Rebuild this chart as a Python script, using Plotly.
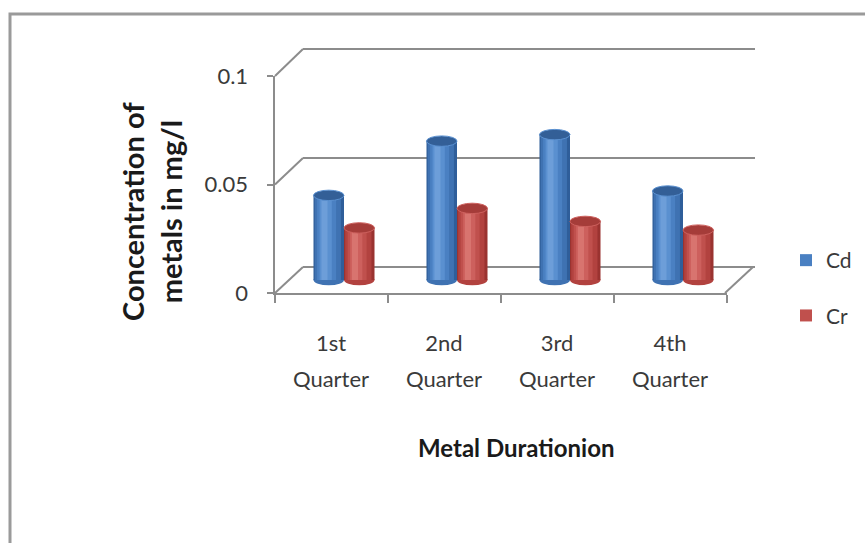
import plotly.graph_objects as go

categories = ["1st<br>Quarter", "2nd<br>Quarter", "3rd<br>Quarter", "4th<br>Quarter"]
cd_values = [0.039, 0.064, 0.067, 0.041]
cr_values = [0.024, 0.033, 0.027, 0.023]
y_ticks = [0, 0.05, 0.1]
y_ticktext = ["0", "0.05", "0.1"]

W, H = 865, 543
def X(px):
    return px / W
def Y(py):
    return 1 - py / H

GRAY = "#8c8c8c"
FONT = "Lato"

fig = go.Figure()

idx = list(range(len(categories)))
BW = 0.27
series = [
    ("Cd", cd_values, -BW, ["#2f5e9a", "#3f72b2", "#4a80c2", "#5a90d0", "#6d9ed9"], "#335f97"),
    ("Cr", cr_values, 0.0, ["#9a3330", "#b2423f", "#c0504d", "#cd605d", "#d8746f"], "#a53c39"),
]
strips = [(0.0, 1.0), (0.04, 0.86), (0.12, 0.62), (0.2, 0.4), (0.26, 0.2)]
for name, vals, off, cols, topc in series:
    for k, (ro, rw) in enumerate(strips):
        fig.add_trace(go.Bar(
            x=idx, y=vals, base=0, offset=off + ro * BW, width=rw * BW,
            marker=dict(color=cols[k], line=dict(width=0)),
            name=name, legendgroup=name, showlegend=(k == 2),
            xaxis="x3", yaxis="y3", hoverinfo="skip"))

E = 0.0024
shapes = []
for name, vals, off, cols, topc in series:
    for i, v in zip(idx, vals):
        shapes.append(dict(type="circle", xref="x3", yref="y3", layer="below",
                           x0=i + off, x1=i + off + BW, y0=-E, y1=E,
                           fillcolor=cols[1], line=dict(width=0)))
        shapes.append(dict(type="circle", xref="x3", yref="y3", layer="above",
                           x0=i + off, x1=i + off + BW, y0=v - E, y1=v + E,
                           fillcolor=topc, line=dict(color=cols[3], width=1)))

def seg(x0, y0, x1, y1, w=2):
    return dict(type="line", xref="paper", yref="paper", layer="below",
                x0=X(x0), y0=Y(y0), x1=X(x1), y1=Y(y1),
                line=dict(color=GRAY, width=w))

FX, BX, BXR, FXR = 275, 303, 755, 725
for fy, by in [(76, 49), (184.5, 158), (293, 267)]:
    shapes.append(seg(FX, fy, BX, by))
shapes.append(seg(FXR, 293, 753, 267))
shapes.append(dict(type="rect", xref="paper", yref="paper", layer="below",
                   x0=X(10), y0=Y(14), x1=X(880), y1=Y(570),
                   line=dict(color="#9a9a9a", width=3), fillcolor="rgba(0,0,0,0)"))

fig.add_trace(go.Scatter(x=[None], y=[None], xaxis="x", yaxis="y", showlegend=False, hoverinfo="skip"))
fig.add_trace(go.Scatter(x=[None], y=[None], xaxis="x2", yaxis="y2", showlegend=False, hoverinfo="skip"))

pad_px = 2
wall_scale = 0.1 / (267 - 49)
padv = pad_px * wall_scale

bar_scale = 0.1 / 217.0
y3_lo = -0.01

tick_text = ['<span style="font-size:22px">%s</span>' % c for c in categories]

fig.update_layout(
    template="none",
    width=W, height=H,
    margin=dict(l=0, r=0, t=0, b=0, pad=0, autoexpand=False),
    paper_bgcolor="white", plot_bgcolor="rgba(0,0,0,0)",
    barmode="overlay",
    shapes=shapes,
    font=dict(family=FONT, color="#3a3a3a"),
    xaxis=dict(domain=[X(BX), X(BXR)], range=[0, 1], visible=False, anchor="y", automargin=False),
    yaxis=dict(domain=[Y(267 + pad_px), Y(49 - pad_px)], range=[-padv, 0.1 + padv],
               anchor="x", tickvals=y_ticks, showticklabels=False, ticks="", automargin=False,
               showgrid=True, gridcolor=GRAY, gridwidth=2, zeroline=False, showline=False),
    xaxis2=dict(domain=[X(274.5), X(726.5)], range=[-0.5, 3.5], anchor="y2", automargin=False,
                tickvals=idx, ticktext=tick_text, ticks="", showgrid=False, zeroline=False,
                showline=True, linecolor=GRAY, linewidth=2,
                tickfont=dict(family=FONT, size=28, color="#3a3a3a"),
                ticklabelstandoff=22,
                minor=dict(tickvals=[-0.5, 0.5, 1.5, 2.5, 3.5], ticks="outside",
                           ticklen=8, tickwidth=2, tickcolor=GRAY, showgrid=False)),
    yaxis2=dict(domain=[Y(293), Y(76)], range=[0, 0.1], anchor="x2", automargin=False,
                tickvals=y_ticks, ticktext=y_ticktext, ticks="outside", ticklen=6,
                tickwidth=2, tickcolor=GRAY, showgrid=False, zeroline=False,
                showline=True, linecolor=GRAY, linewidth=2, ticklabelstandoff=14,
                tickfont=dict(family=FONT, size=22, color="#3a3a3a")),
    xaxis3=dict(domain=[X(287.5), X(739.5)], range=[-0.5, 3.5], anchor="y3", visible=False, automargin=False),
    yaxis3=dict(domain=[Y(280 - y3_lo / bar_scale), Y(280 - 0.1 / bar_scale)],
                range=[y3_lo, 0.1], anchor="x3", visible=False, automargin=False),
    legend=dict(x=X(786), y=Y(240), xanchor="left", yanchor="top",
                font=dict(family=FONT, size=21, color="#3a3a3a"),
                tracegroupgap=25, itemwidth=30, bgcolor="rgba(0,0,0,0)", borderwidth=0),
    annotations=[
        dict(text="Concentration of<br>metals in mg/l", xref="paper", yref="paper",
             x=X(151), y=Y(212), xanchor="center", yanchor="middle",
             textangle=-90, showarrow=False,
             font=dict(family=FONT, size=29, color="#1a1a1a", weight="bold")),
        dict(text="Metal Durationion", xref="paper", yref="paper",
             x=X(516), y=Y(447), xanchor="center", yanchor="middle", showarrow=False,
             font=dict(family=FONT, size=24, color="#1a1a1a", weight="bold")),
    ],
)

fig.write_html("out.html", config={"displayModeBar": False},
               post_script="document.body.style.margin='0';document.body.style.overflow='hidden';")
